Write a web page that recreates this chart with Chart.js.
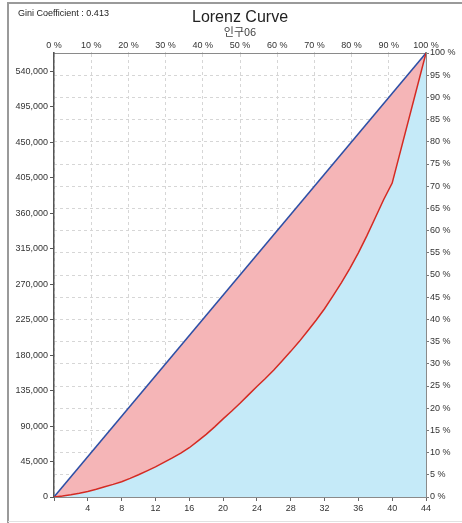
<!DOCTYPE html>
<html>
<head>
<meta charset="utf-8">
<script src="https://cdn.jsdelivr.net/npm/chart.js@4/dist/chart.umd.min.js"></script>
<style>
  html, body { margin: 0; padding: 0; background: #fff; }
  #wrap { width: 462px; height: 523px; position: relative; }
</style>
</head>
<body>
<div id="wrap"><canvas id="lorenz" width="462" height="523"></canvas></div>
<script>
// cumulative population (count) and cumulative share of value (%)
const population = [0, 1, 2, 3, 4, 5, 6, 7, 8, 9, 10, 11, 12, 13, 14, 15, 16, 17, 18, 19, 20, 21, 22,
  23, 24, 25, 26, 27, 28, 29, 30, 31, 32, 33, 34, 35, 36, 37, 38, 39, 40, 44];
const cumulativeShare = [0, 0.2, 0.5, 0.85, 1.25, 1.75, 2.3, 2.85, 3.45, 4.2, 5.0, 5.9, 6.8, 7.8, 8.8,
  9.9, 11.1, 12.6, 14.1, 15.8, 17.6, 19.3, 21.1, 23.0, 24.9, 26.7, 28.6, 30.7, 32.8, 35.0, 37.4, 39.8,
  42.4, 45.3, 48.3, 51.5, 55.0, 58.8, 62.9, 67.0, 70.7, 100];
const equalityX = [0, 44];
const equalityY = [0, 100];
const totalValue = 563000;

// tick labels
const bottomTicks = [0, 4, 8, 12, 16, 20, 24, 28, 32, 36, 40, 44];
const topTicks = [0, 10, 20, 30, 40, 50, 60, 70, 80, 90, 100];
const leftTicks = [0, 45000, 90000, 135000, 180000, 225000, 270000, 315000, 360000, 405000, 450000, 495000, 540000];
const rightTicks = [0, 5, 10, 15, 20, 25, 30, 35, 40, 45, 50, 55, 60, 65, 70, 75, 80, 85, 90, 95, 100];

const giniText = 'Gini Coefficient : 0.413';
const titleText = 'Lorenz Curve';
const subtitleText = '인구06';

const tickFont = { family: 'Liberation Sans, Arial, sans-serif', size: 9 };
const tickColor = '#333';
const setTicks = list => scale => { scale.ticks = list.map(v => ({ value: v })); };

const decorations = {
  id: 'decorations',
  beforeDraw(chart) {
    const ctx = chart.ctx;
    ctx.save();
    ctx.strokeStyle = '#9a9a9a';
    ctx.lineWidth = 2;
    ctx.beginPath();
    ctx.moveTo(8, 523);
    ctx.lineTo(8, 3);
    ctx.lineTo(462, 3);
    ctx.stroke();
    ctx.strokeStyle = '#e2e2e2';
    ctx.lineWidth = 1;
    ctx.beginPath();
    ctx.moveTo(8, 521.5);
    ctx.lineTo(462, 521.5);
    ctx.stroke();
    ctx.restore();
  },
  afterDraw(chart) {
    const ctx = chart.ctx;
    ctx.save();
    ctx.fillStyle = '#222';
    ctx.textBaseline = 'middle';
    ctx.textAlign = 'left';
    ctx.font = '9px "Liberation Sans", Arial, sans-serif';
    ctx.fillText(giniText, 18, 14);
    ctx.textAlign = 'center';
    ctx.font = '16px "Liberation Sans", Arial, sans-serif';
    ctx.fillText(titleText, 240, 18);
    ctx.fillStyle = '#444';
    ctx.font = '11px "Noto Sans CJK KR", sans-serif';
    ctx.fillText(subtitleText, 240, 32);
    ctx.restore();
  }
};

new Chart(document.getElementById('lorenz'), {
  type: 'line',
  data: {
    datasets: [{
      label: 'Lorenz',
      data: population.map((x, i) => ({ x: x, y: cumulativeShare[i] })),
      xAxisID: 'x',
      yAxisID: 'yR',
      borderColor: '#d42a22',
      borderWidth: 1.5,
      backgroundColor: 'rgb(197, 234, 248)',
      fill: 'origin',
      pointRadius: 0,
      tension: 0
    }, {
      label: 'Equality',
      data: equalityX.map((x, i) => ({ x: x, y: equalityY[i] })),
      xAxisID: 'x',
      yAxisID: 'yR',
      borderColor: '#2d4fa6',
      borderWidth: 1.5,
      backgroundColor: 'rgb(245, 181, 183)',
      fill: 'origin',
      pointRadius: 0,
      tension: 0
    }]
  },
  options: {
    responsive: false,
    animation: false,
    layout: { padding: { top: 36, left: 0, right: 0, bottom: 0 } },
    plugins: {
      legend: { display: false },
      title: { display: false },
      tooltip: { enabled: false },
      filler: { drawTime: 'beforeDatasetsDraw' }
    },
    scales: {
      x: {
        type: 'linear',
        position: 'bottom',
        min: 0,
        max: 44,
        afterFit: s => { s.height = 26; },
        afterBuildTicks: setTicks(bottomTicks),
        ticks: {
          autoSkip: false,
          maxRotation: 0,
          padding: 2,
          font: tickFont,
          color: tickColor,
          callback: v => (v === 0 ? '' : v)
        },
        grid: { drawOnChartArea: false, tickLength: 4, tickColor: '#666' },
        border: { color: '#8a8a8a', width: 2 }
      },
      xT: {
        type: 'linear',
        position: 'top',
        min: 0,
        max: 100,
        afterFit: s => { s.height = 17; },
        afterBuildTicks: setTicks(topTicks),
        ticks: {
          autoSkip: false,
          maxRotation: 0,
          padding: 1,
          font: tickFont,
          color: tickColor,
          callback: v => v + ' %'
        },
        grid: { color: '#d6d6d6', tickLength: 1, tickColor: '#d6d6d6' },
        border: { color: '#8a8a8a', width: 1, dash: [3, 3] }
      },
      yL: {
        type: 'linear',
        position: 'left',
        min: 0,
        max: totalValue,
        afterFit: s => { s.width = 54; },
        afterBuildTicks: setTicks(leftTicks),
        ticks: {
          autoSkip: false,
          padding: 2,
          font: tickFont,
          color: tickColor,
          callback: v => v.toLocaleString('en-US')
        },
        grid: { drawOnChartArea: false, tickLength: 4, tickColor: '#555' },
        border: { color: '#555', width: 1.5 }
      },
      yR: {
        type: 'linear',
        position: 'right',
        min: 0,
        max: 100,
        afterFit: s => { s.width = 36; },
        afterBuildTicks: setTicks(rightTicks),
        ticks: {
          autoSkip: false,
          padding: 1,
          font: tickFont,
          color: tickColor,
          callback: v => v + ' %'
        },
        grid: { color: '#d6d6d6', tickLength: 3, tickColor: '#777' },
        border: { color: '#8a8a8a', width: 2, dash: [3, 3] }
      }
    }
  },
  plugins: [decorations]
});
</script>
</body>
</html>
